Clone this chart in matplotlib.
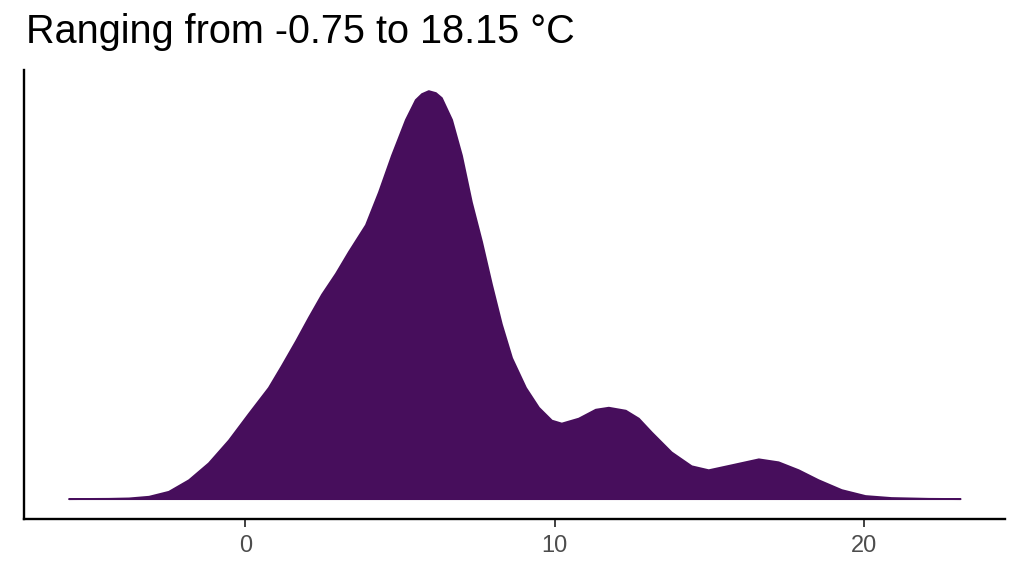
import matplotlib
matplotlib.use("Agg")
import matplotlib.pyplot as plt

# Density curve (temperature in °C, relative density height)
temp_x = [-5.72, -4.43, -3.78, -3.13, -2.49, -1.84, -1.20, -0.55, 0.10, 0.74,
          1.16, 1.62, 2.04, 2.46, 2.91, 3.33, 3.88, 4.30, 4.72, 5.17,
          5.49, 5.69, 5.91, 6.14, 6.33, 6.66, 6.98, 7.30, 7.63, 7.95,
          8.27, 8.60, 9.05, 9.47, 9.89, 10.21, 10.76, 11.31, 11.73, 12.28,
          12.70, 13.12, 13.76, 14.41, 14.96, 15.70, 16.58, 17.22, 17.87, 18.51,
          19.26, 20.03, 20.87, 22.07, 23.10]
density_px = [0, 0.2, 0.6, 2.3, 7.3, 19, 36, 59, 86, 112,
              134, 159, 183, 206, 227, 249, 276, 309, 346, 382,
              402, 408, 411, 409, 404, 382, 346, 299, 259, 216,
              176, 142, 112, 92, 79, 76, 81, 90, 92, 89,
              81, 67, 47, 33, 29, 34, 40, 37, 29, 19,
              9, 3, 1, 0.2, 0]
density = [v / 3400.0 for v in density_px]

title = "Ranging from -0.75 to 18.15 °C"
xticks = [0, 10, 20]
fill_color = "#470E5C"

plt.rcParams['font.family'] = ['Liberation Sans', 'DejaVu Sans']

fig = plt.figure(figsize=(10.24, 5.76), dpi=100)
ax = fig.add_axes([0.0234, 0.099, 0.9577, 0.779])

ax.fill_between(temp_x, density, 0, facecolor=fill_color, edgecolor=fill_color,
                linewidth=1.4, joinstyle='round')

xmin, xmax = min(temp_x), max(temp_x)
pad = 0.05 * (xmax - xmin)
ax.set_xlim(xmin - pad, xmax + pad)
ymax = max(density)
ax.set_ylim(-0.05 * ymax, 1.05 * ymax)

ax.set_xticks(xticks)
ax.set_xticklabels([str(t) for t in xticks])
ax.set_yticks([])
ax.tick_params(axis='x', colors='#333333', length=5.5, width=1.3, labelsize=17,
               labelcolor='#4D4D4D', pad=6)

for s in ['top', 'right']:
    ax.spines[s].set_visible(False)
for s in ['left', 'bottom']:
    ax.spines[s].set_color('black')
    ax.spines[s].set_linewidth(1.7)

fig.text(0.025, 0.925, title, fontsize=28.5, color='black', ha='left', va='baseline')

fig.savefig("out.png", dpi=100, facecolor='white')
